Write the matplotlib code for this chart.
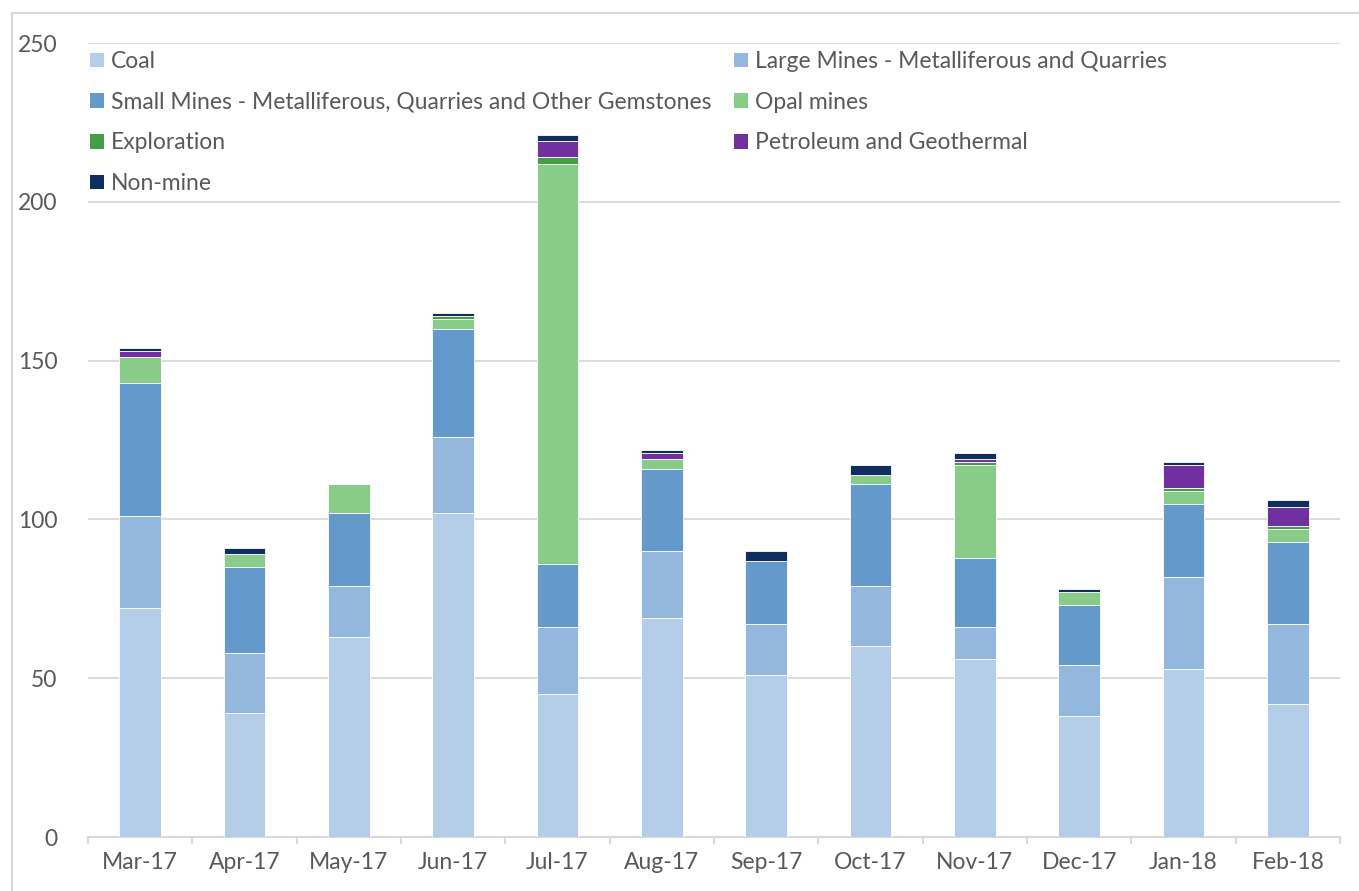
import matplotlib.pyplot as plt
import numpy as np
from matplotlib.patches import Rectangle, Patch

plt.rcParams['font.family'] = ['Lato', 'DejaVu Sans']

months = ["Mar-17", "Apr-17", "May-17", "Jun-17", "Jul-17", "Aug-17",
          "Sep-17", "Oct-17", "Nov-17", "Dec-17", "Jan-18", "Feb-18"]

coal = [72, 39, 63, 102, 45, 69, 51, 60, 56, 38, 53, 42]
large_mines = [29, 19, 16, 24, 21, 21, 16, 19, 10, 16, 29, 25]
small_mines = [42, 27, 23, 34, 20, 26, 20, 32, 22, 19, 23, 26]
opal = [8, 4, 9, 3, 126, 3, 0, 3, 29, 4, 4, 4]
exploration = [0, 0, 0, 1, 2, 0, 0, 0, 1, 0, 1, 1]
petroleum = [2, 0, 0, 0, 5, 2, 0, 0, 1, 0, 7, 6]
non_mine = [1, 2, 0, 1, 2, 1, 3, 3, 2, 1, 1, 2]

series = [
    ("Coal", coal, "#B4CDE8"),
    ("Large Mines - Metalliferous and Quarries", large_mines, "#93B7DD"),
    ("Small Mines - Metalliferous, Quarries and Other Gemstones", small_mines, "#6499CC"),
    ("Opal mines", opal, "#89CC8A"),
    ("Exploration", exploration, "#459D48"),
    ("Petroleum and Geothermal", petroleum, "#7030A0"),
    ("Non-mine", non_mine, "#0F2D5F"),
]

fig = plt.figure(figsize=(13.59, 8.91), dpi=100)
ax = fig.add_axes([88/1359, 1 - 837/891, (1340-88)/1359, (837-43)/891])

x = np.arange(len(months))
bottom = np.zeros(len(months))
handles = []
for name, vals, col in series:
    ax.bar(x, vals, 0.4, bottom=bottom, color=col, edgecolor="white",
           linewidth=0.6, zorder=3)
    bottom += np.array(vals)
    handles.append(Patch(facecolor=col, edgecolor="none", label=name))

ax.set_xlim(-0.5, len(months) - 0.5)
ax.set_ylim(0, 250)
ax.set_yticks([0, 50, 100, 150, 200, 250])
ax.yaxis.grid(True, color="#D9D9D9", linewidth=1.3, zorder=0)

for s in ["top", "right", "left"]:
    ax.spines[s].set_visible(False)
ax.spines["bottom"].set_color("#D9D9D9")
ax.spines["bottom"].set_linewidth(1.5)

ax.set_xticks(x)
ax.set_xticklabels(months)
ax.set_xticks(np.arange(-0.5, len(months)), minor=True)
ax.tick_params(axis="x", which="major", length=0, pad=11, labelsize=16.5, labelcolor="#595959")
ax.tick_params(axis="x", which="minor", length=5, width=1.5, color="#D9D9D9")
ax.tick_params(axis="y", length=0, pad=22, labelsize=16.5, labelcolor="#595959")

leg_kw = dict(frameon=False, fontsize=16.5, labelcolor="#595959", handlelength=0.6,
              handleheight=0.6, handletextpad=0.3, labelspacing=0.86,
              borderaxespad=0, borderpad=0, loc="upper left")
leg1 = ax.legend(handles=[handles[i] for i in (0, 2, 4, 6)],
                 bbox_to_anchor=(90/1359, 1 - 51/891), bbox_transform=fig.transFigure, **leg_kw)
ax.add_artist(leg1)
ax.legend(handles=[handles[i] for i in (1, 3, 5)],
          bbox_to_anchor=(734/1359, 1 - 51/891), bbox_transform=fig.transFigure, **leg_kw)

# outer chart frame
fig.patches.append(Rectangle((12/1359, -0.05), 1.1, 1 - 13.5/891 + 0.05,
                             transform=fig.transFigure, fill=False,
                             edgecolor="#D9D9D9", linewidth=1.5))

fig.savefig("out.png", dpi=100)
